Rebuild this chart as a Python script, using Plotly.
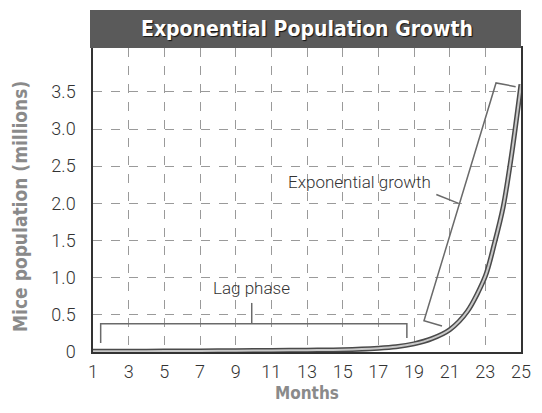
import plotly.graph_objects as go

# ---- data ----
months = [1, 3, 5, 7, 9, 11, 13, 15, 17, 18, 19, 20, 21, 22, 23, 23.5, 24, 24.5, 25]
mice_millions = [0.01, 0.01, 0.012, 0.015, 0.018, 0.02, 0.025, 0.03, 0.05, 0.07, 0.11, 0.18, 0.3, 0.55, 1.02, 1.45, 1.95, 2.7, 3.6]

x_ticks = list(range(1, 26, 2))
y_ticks = [0, 0.5, 1.0, 1.5, 2.0, 2.5, 3.0, 3.5]
y_tick_labels = ["0", "0.5", "1.0", "1.5", "2.0", "2.5", "3.0", "3.5"]

title_text = "Exponential Population Growth"
x_title = "Months"
y_title = "Mice population (millions)"

# annotation brackets (data coordinates)
lag_bracket_x = [1.43, 1.43, 18.6, 18.6]
lag_bracket_y = [0.12, 0.38, 0.38, 0.19]
lag_tick_x = [9.9, 9.9]
lag_tick_y = [0.38, 0.66]
lag_label = ("Lag phase", 9.9, 0.86)

exp_bracket_x = [20.57, 19.56, 23.6, 24.7]
exp_bracket_y = [0.35, 0.42, 3.62, 3.57]
exp_tail_x = [20.25, 21.5]
exp_tail_y = [2.12, 2.0]
exp_label = ("Exponential growth", 15.95, 2.29)

font_main = "Roboto, sans-serif"
font_bold = "DejaVu Sans Condensed, sans-serif"

fig = go.Figure()

# curve: dark outer, light inner
fig.add_trace(go.Scatter(x=months, y=mice_millions, mode="lines",
                         line=dict(color="#4a4a4a", width=5, shape="spline", smoothing=0.8),
                         hoverinfo="skip", showlegend=False))
fig.add_trace(go.Scatter(x=months, y=mice_millions, mode="lines",
                         line=dict(color="#c8c8c8", width=2, shape="spline", smoothing=0.8),
                         hoverinfo="skip", showlegend=False))

bracket_line = dict(color="#6a6a6a", width=1.5)
for bx, by in [(lag_bracket_x, lag_bracket_y), (lag_tick_x, lag_tick_y),
               (exp_bracket_x, exp_bracket_y), (exp_tail_x, exp_tail_y)]:
    fig.add_trace(go.Scatter(x=bx, y=by, mode="lines", line=bracket_line,
                             hoverinfo="skip", showlegend=False))

for txt, ax_, ay_ in [lag_label, exp_label]:
    fig.add_annotation(x=ax_, y=ay_, text=txt, showarrow=False, xref="x", yref="y",
                       font=dict(family=font_main, size=17, color="#333333", weight=300))

# header band
fig.add_shape(type="rect", xref="paper", yref="paper", x0=-0.007, x1=1.0,
              y0=1.0, y1=1.125, fillcolor="#5a5a5a", line=dict(width=0), layer="above")
fig.add_annotation(xref="paper", yref="paper", x=0.5, y=1.0625, text="<b>" + title_text + "</b>",
                   showarrow=False, yanchor="middle",
                   font=dict(family=font_bold, size=21, color="white",
                             shadow="1px 1px 1px #111"))

# axis titles
fig.add_annotation(xref="paper", yref="paper", x=0.5, y=-0.135, text="<b>" + x_title + "</b>",
                   showarrow=False, yanchor="middle",
                   font=dict(family=font_bold, size=17, color="#8a8a8a"))
fig.add_annotation(xref="paper", yref="paper", x=-0.171, y=0.48, text="<b>" + y_title + "</b>",
                   showarrow=False, textangle=-90, xanchor="center", yanchor="middle",
                   font=dict(family=font_bold, size=19, color="#8a8a8a"))

fig.update_xaxes(range=[1, 25], tickvals=x_ticks, ticktext=[str(v) for v in x_ticks],
                 showgrid=True, gridcolor="#9a9a9a", griddash="dash", gridwidth=1,
                 showline=True, linecolor="#333333", linewidth=1.5, mirror=True,
                 zeroline=False, ticks="", ticklabelstandoff=3,
                 tickfont=dict(family=font_main, size=18, color="#333333", weight=300))
fig.update_yaxes(range=[0, 4.09], tickvals=y_ticks, ticktext=y_tick_labels,
                 showgrid=True, gridcolor="#9a9a9a", griddash="dash", gridwidth=1,
                 showline=True, linecolor="#333333", linewidth=1.5, mirror=True,
                 zeroline=False, ticks="", ticklabelstandoff=12,
                 tickfont=dict(family=font_main, size=18, color="#333333", weight=300))

fig.update_layout(width=542, height=413, margin=dict(l=93, r=21, t=48, b=61),
                  paper_bgcolor="white", plot_bgcolor="white", showlegend=False)

fig.write_html("out.html", config={"displayModeBar": False},
               post_script="document.body.style.margin='0';document.body.style.overflow='hidden';"
                           "document.documentElement.style.overflow='hidden';")
